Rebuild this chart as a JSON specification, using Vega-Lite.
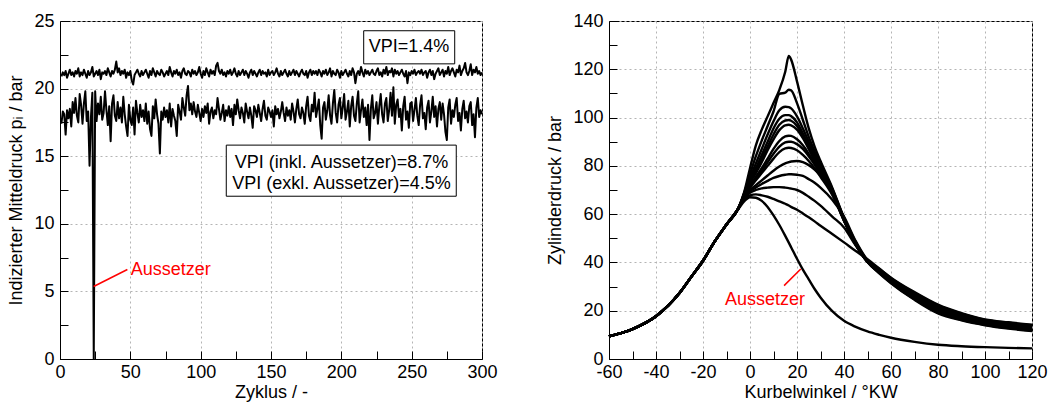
{
"$schema": "https://vega.github.io/schema/vega-lite/v6.json",
"background": "white",
"padding": {"left": 7, "top": 11, "right": 0, "bottom": 0},
"spacing": 48,
"datasets": {
"cyc": [
{"x":1,"a":20.9,"b":17.4},{"x":2,"a":21.2,"b":18.3},{"x":3,"a":21.0,"b":18.1},{"x":4,"a":21.3,"b":16.6},{"x":5,"a":20.8,"b":18.4},{"x":6,"a":21.1,"b":17.8},{"x":7,"a":21.4,"b":18.5},{"x":8,"a":21.0,"b":17.2},{"x":9,"a":21.2,"b":19.0},{"x":10,"a":20.9,"b":18.2},
{"x":11,"a":21.3,"b":19.3},{"x":12,"a":21.1,"b":18.0},{"x":13,"a":21.5,"b":17.5},{"x":14,"a":20.9,"b":19.6},{"x":15,"a":21.2,"b":18.8},{"x":16,"a":21.0,"b":17.4},{"x":17,"a":21.4,"b":18.9},{"x":18,"a":21.1,"b":19.8},{"x":19,"a":20.8,"b":17.6},{"x":20,"a":21.3,"b":18.3},
{"x":21,"a":21.0,"b":14.3},{"x":22,"a":21.2,"b":17.9},{"x":23,"a":21.6,"b":19.7},{"x":24,"a":20.9,"b":0},{"x":25,"a":21.1,"b":19.8},{"x":26,"a":21.3,"b":17.6},{"x":27,"a":21.0,"b":18.9},{"x":28,"a":21.4,"b":18.1},{"x":29,"a":20.7,"b":19.4},{"x":30,"a":21.2,"b":17.7},
{"x":31,"a":21.1,"b":18.2},{"x":32,"a":21.3,"b":19.8},{"x":33,"a":21.0,"b":18.4},{"x":34,"a":21.5,"b":17.3},{"x":35,"a":21.2,"b":18.7},{"x":36,"a":20.9,"b":16.1},{"x":37,"a":21.3,"b":18.9},{"x":38,"a":21.1,"b":19.5},{"x":39,"a":21.4,"b":18.0},{"x":40,"a":22.0,"b":17.6},
{"x":41,"a":21.2,"b":19.0},{"x":42,"a":21.5,"b":17.8},{"x":43,"a":21.0,"b":18.6},{"x":44,"a":21.3,"b":17.5},{"x":45,"a":21.1,"b":19.4},{"x":46,"a":21.4,"b":18.1},{"x":47,"a":20.8,"b":17.2},{"x":48,"a":21.2,"b":16.5},{"x":49,"a":21.0,"b":18.8},{"x":50,"a":21.3,"b":17.7},
{"x":51,"a":20.6,"b":17.3},{"x":52,"a":20.3,"b":18.6},{"x":53,"a":21.0,"b":16.6},{"x":54,"a":21.2,"b":19.1},{"x":55,"a":21.4,"b":18.2},{"x":56,"a":21.1,"b":17.5},{"x":57,"a":20.9,"b":18.8},{"x":58,"a":21.3,"b":17.9},{"x":59,"a":21.0,"b":18.4},{"x":60,"a":21.2,"b":17.6},
{"x":61,"a":21.4,"b":18.9},{"x":62,"a":21.1,"b":17.4},{"x":63,"a":20.8,"b":18.3},{"x":64,"a":21.3,"b":17.0},{"x":65,"a":21.0,"b":16.5},{"x":66,"a":21.5,"b":18.7},{"x":67,"a":21.2,"b":17.8},{"x":68,"a":20.9,"b":19.2},{"x":69,"a":21.3,"b":18.1},{"x":70,"a":21.1,"b":17.4},
{"x":71,"a":21.0,"b":15.2},{"x":72,"a":21.4,"b":18.3},{"x":73,"a":21.2,"b":17.7},{"x":74,"a":20.9,"b":18.6},{"x":75,"a":21.1,"b":17.9},{"x":76,"a":21.3,"b":18.4},{"x":77,"a":21.0,"b":17.5},{"x":78,"a":21.6,"b":18.9},{"x":79,"a":21.2,"b":17.2},{"x":80,"a":20.9,"b":18.5},
{"x":81,"a":21.3,"b":18.0},{"x":82,"a":21.1,"b":17.6},{"x":83,"a":21.4,"b":16.5},{"x":84,"a":21.0,"b":18.8},{"x":85,"a":21.2,"b":18.3},{"x":86,"a":20.8,"b":17.7},{"x":87,"a":21.3,"b":19.3},{"x":88,"a":21.5,"b":18.6},{"x":89,"a":21.1,"b":18.0},{"x":90,"a":21.0,"b":19.5},
{"x":91,"a":21.3,"b":20.2},{"x":92,"a":21.2,"b":18.4},{"x":93,"a":20.9,"b":18.9},{"x":94,"a":21.4,"b":18.1},{"x":95,"a":21.1,"b":19.0},{"x":96,"a":21.3,"b":18.3},{"x":97,"a":21.0,"b":17.9},{"x":98,"a":21.2,"b":18.8},{"x":99,"a":21.6,"b":18.2},{"x":100,"a":21.1,"b":17.6},
{"x":101,"a":20.8,"b":18.5},{"x":102,"a":21.3,"b":17.9},{"x":103,"a":21.0,"b":18.7},{"x":104,"a":21.5,"b":18.2},{"x":105,"a":21.2,"b":18.9},{"x":106,"a":20.9,"b":17.4},{"x":107,"a":21.4,"b":18.3},{"x":108,"a":21.1,"b":18.6},{"x":109,"a":21.3,"b":17.8},{"x":110,"a":21.0,"b":18.4},
{"x":111,"a":21.7,"b":18.1},{"x":112,"a":21.9,"b":19.3},{"x":113,"a":21.3,"b":18.5},{"x":114,"a":21.1,"b":17.7},{"x":115,"a":21.4,"b":18.2},{"x":116,"a":21.0,"b":18.8},{"x":117,"a":21.2,"b":17.6},{"x":118,"a":20.9,"b":18.4},{"x":119,"a":21.3,"b":18.0},{"x":120,"a":21.1,"b":18.7},
{"x":121,"a":21.4,"b":17.9},{"x":122,"a":21.0,"b":18.5},{"x":123,"a":21.2,"b":17.3},{"x":124,"a":21.5,"b":18.8},{"x":125,"a":21.1,"b":18.1},{"x":126,"a":20.9,"b":19.2},{"x":127,"a":21.3,"b":18.4},{"x":128,"a":21.0,"b":17.8},{"x":129,"a":21.2,"b":18.6},{"x":130,"a":21.4,"b":18.2},
{"x":131,"a":21.0,"b":17.5},{"x":132,"a":21.3,"b":18.9},{"x":133,"a":21.1,"b":18.3},{"x":134,"a":20.8,"b":17.8},{"x":135,"a":21.2,"b":18.6},{"x":136,"a":21.4,"b":18.0},{"x":137,"a":21.0,"b":17.1},{"x":138,"a":21.3,"b":18.7},{"x":139,"a":21.1,"b":18.4},{"x":140,"a":20.9,"b":17.9},
{"x":141,"a":21.2,"b":18.8},{"x":142,"a":21.4,"b":18.2},{"x":143,"a":21.0,"b":17.6},{"x":144,"a":21.3,"b":18.5},{"x":145,"a":21.1,"b":19.1},{"x":146,"a":21.2,"b":18.0},{"x":147,"a":20.9,"b":17.7},{"x":148,"a":21.4,"b":18.6},{"x":149,"a":21.0,"b":18.3},{"x":150,"a":21.2,"b":17.9},
{"x":151,"a":21.3,"b":18.4},{"x":152,"a":21.0,"b":17.2},{"x":153,"a":21.2,"b":18.7},{"x":154,"a":21.5,"b":18.1},{"x":155,"a":21.1,"b":18.5},{"x":156,"a":20.9,"b":17.8},{"x":157,"a":21.3,"b":18.3},{"x":158,"a":21.0,"b":19.0},{"x":159,"a":21.2,"b":18.2},{"x":160,"a":21.4,"b":17.6},
{"x":161,"a":21.1,"b":18.6},{"x":162,"a":20.9,"b":18.0},{"x":163,"a":21.3,"b":18.4},{"x":164,"a":21.0,"b":17.7},{"x":165,"a":21.2,"b":18.9},{"x":166,"a":21.4,"b":18.3},{"x":167,"a":21.0,"b":17.5},{"x":168,"a":21.3,"b":18.5},{"x":169,"a":21.1,"b":19.2},{"x":170,"a":20.9,"b":18.1},
{"x":171,"a":21.2,"b":17.8},{"x":172,"a":21.4,"b":18.6},{"x":173,"a":21.1,"b":18.2},{"x":174,"a":21.0,"b":17.4},{"x":175,"a":21.3,"b":18.7},{"x":176,"a":20.8,"b":19.4},{"x":177,"a":21.2,"b":18.0},{"x":178,"a":21.4,"b":17.6},{"x":179,"a":21.0,"b":18.8},{"x":180,"a":21.3,"b":18.3},
{"x":181,"a":21.1,"b":19.7},{"x":182,"a":21.3,"b":17.9},{"x":183,"a":21.0,"b":18.5},{"x":184,"a":21.4,"b":19.2},{"x":185,"a":21.2,"b":17.3},{"x":186,"a":20.9,"b":16.3},{"x":187,"a":21.3,"b":18.6},{"x":188,"a":21.1,"b":19.0},{"x":189,"a":21.4,"b":17.7},{"x":190,"a":21.0,"b":18.4},
{"x":191,"a":21.2,"b":19.5},{"x":192,"a":21.5,"b":18.0},{"x":193,"a":20.9,"b":17.4},{"x":194,"a":21.3,"b":18.9},{"x":195,"a":21.1,"b":19.9},{"x":196,"a":21.0,"b":18.2},{"x":197,"a":21.4,"b":17.5},{"x":198,"a":21.2,"b":18.8},{"x":199,"a":20.8,"b":19.3},{"x":200,"a":21.3,"b":17.8},
{"x":201,"a":21.0,"b":18.6},{"x":202,"a":21.2,"b":19.6},{"x":203,"a":21.4,"b":17.7},{"x":204,"a":21.1,"b":18.3},{"x":205,"a":20.9,"b":19.1},{"x":206,"a":21.3,"b":17.2},{"x":207,"a":21.0,"b":18.7},{"x":208,"a":21.5,"b":19.4},{"x":209,"a":21.2,"b":18.0},{"x":210,"a":20.4,"b":17.6},
{"x":211,"a":21.1,"b":18.9},{"x":212,"a":21.3,"b":19.8},{"x":213,"a":21.0,"b":17.5},{"x":214,"a":21.6,"b":18.4},{"x":215,"a":21.2,"b":19.2},{"x":216,"a":20.9,"b":17.9},{"x":217,"a":21.4,"b":18.6},{"x":218,"a":21.1,"b":17.3},{"x":219,"a":21.3,"b":18.8},{"x":220,"a":21.0,"b":16.2},
{"x":221,"a":21.2,"b":18.5},{"x":222,"a":21.4,"b":19.5},{"x":223,"a":21.1,"b":17.8},{"x":224,"a":21.0,"b":18.2},{"x":225,"a":21.3,"b":19.0},{"x":226,"a":21.5,"b":17.4},{"x":227,"a":21.0,"b":18.7},{"x":228,"a":21.2,"b":19.6},{"x":229,"a":20.9,"b":18.1},{"x":230,"a":21.4,"b":17.5},
{"x":231,"a":21.1,"b":18.9},{"x":232,"a":21.6,"b":19.3},{"x":233,"a":21.0,"b":17.6},{"x":234,"a":21.3,"b":18.4},{"x":235,"a":21.2,"b":19.7},{"x":236,"a":21.5,"b":18.0},{"x":237,"a":20.9,"b":20.1},{"x":238,"a":21.4,"b":17.4},{"x":239,"a":21.1,"b":18.8},{"x":240,"a":21.3,"b":19.2},
{"x":241,"a":21.0,"b":17.9},{"x":242,"a":21.2,"b":18.5},{"x":243,"a":21.4,"b":16.9},{"x":244,"a":21.1,"b":18.7},{"x":245,"a":20.9,"b":19.4},{"x":246,"a":21.3,"b":17.7},{"x":247,"a":20.4,"b":18.3},{"x":248,"a":21.2,"b":17.1},{"x":249,"a":21.0,"b":18.9},{"x":250,"a":21.3,"b":19.0},
{"x":251,"a":21.1,"b":17.6},{"x":252,"a":21.4,"b":18.4},{"x":253,"a":21.0,"b":19.3},{"x":254,"a":21.2,"b":18.0},{"x":255,"a":21.3,"b":17.3},{"x":256,"a":21.1,"b":18.8},{"x":257,"a":21.4,"b":19.5},{"x":258,"a":21.0,"b":17.8},{"x":259,"a":21.2,"b":18.2},{"x":260,"a":21.3,"b":17.0},
{"x":261,"a":20.8,"b":18.6},{"x":262,"a":21.2,"b":19.1},{"x":263,"a":21.4,"b":17.5},{"x":264,"a":21.0,"b":18.3},{"x":265,"a":21.3,"b":19.4},{"x":266,"a":20.7,"b":17.9},{"x":267,"a":21.1,"b":18.7},{"x":268,"a":21.3,"b":17.2},{"x":269,"a":21.5,"b":18.5},{"x":270,"a":21.0,"b":19.0},
{"x":271,"a":21.2,"b":17.7},{"x":272,"a":21.4,"b":18.9},{"x":273,"a":20.9,"b":18.1},{"x":274,"a":21.3,"b":16.8},{"x":275,"a":21.1,"b":16.2},{"x":276,"a":21.6,"b":18.6},{"x":277,"a":21.0,"b":19.2},{"x":278,"a":21.3,"b":17.4},{"x":279,"a":21.5,"b":18.4},{"x":280,"a":21.2,"b":17.9},
{"x":281,"a":20.9,"b":18.8},{"x":282,"a":21.4,"b":19.3},{"x":283,"a":21.2,"b":17.6},{"x":284,"a":21.7,"b":18.2},{"x":285,"a":21.0,"b":16.9},{"x":286,"a":21.3,"b":18.5},{"x":287,"a":21.5,"b":19.1},{"x":288,"a":21.9,"b":17.8},{"x":289,"a":21.2,"b":18.3},{"x":290,"a":21.0,"b":17.5},
{"x":291,"a":21.3,"b":18.7},{"x":292,"a":21.8,"b":19.0},{"x":293,"a":21.0,"b":17.3},{"x":294,"a":21.4,"b":18.1},{"x":295,"a":21.2,"b":16.4},{"x":296,"a":21.6,"b":18.6},{"x":297,"a":21.1,"b":19.3},{"x":298,"a":21.3,"b":17.9},{"x":299,"a":21.0,"b":18.4},{"x":300,"a":21.2,"b":18.1}
],
"boxL": [
{"x":215.9,"x2":280.6,"y":21.83,"y2":24.28},
{"x":118.2,"x2":281.7,"y":12.04,"y2":15.82}
],
"textL": [
{"x":248.1,"y":23.07,"t":"VPI=1.4%"},
{"x":200.1,"y":14.47,"t":"VPI (inkl. Aussetzer)=8.7%"},
{"x":200.1,"y":12.98,"t":"VPI (exkl. Aussetzer)=4.5%"}
],
"ruleL": [{"x":23.9,"y":5.36,"x2":47.9,"y2":6.62}],
"redL": [{"x":50.3,"y":6.55,"t":"Aussetzer"}],
"press": [
{"x":-60,"A":9.4,"B":9.4,"C":9.4,"D":9.4,"E":9.4,"F":9.4,"G":9.4,"H":9.4,"I":9.4,"J":9.4,"K":9.4,"L":9.4,"M":9.4,"N":9.4},
{"x":-50,"A":12.4,"B":12.4,"C":12.4,"D":12.4,"E":12.4,"F":12.4,"G":12.4,"H":12.4,"I":12.4,"J":12.4,"K":12.4,"L":12.4,"M":12.4,"N":12.4},
{"x":-40,"A":17.7,"B":17.7,"C":17.7,"D":17.7,"E":17.7,"F":17.7,"G":17.7,"H":17.7,"I":17.7,"J":17.7,"K":17.7,"L":17.7,"M":17.7,"N":17.7},
{"x":-30,"A":27.3,"B":27.3,"C":27.3,"D":27.3,"E":27.3,"F":27.3,"G":27.3,"H":27.3,"I":27.3,"J":27.3,"K":27.3,"L":27.3,"M":27.3,"N":27.3},
{"x":-25,"A":34,"B":34,"C":34,"D":34,"E":34,"F":34,"G":34,"H":34,"I":34,"J":34,"K":34,"L":34,"M":34,"N":34},
{"x":-20,"A":40.7,"B":40.7,"C":40.7,"D":40.7,"E":40.7,"F":40.7,"G":40.7,"H":40.7,"I":40.7,"J":40.7,"K":40.7,"L":40.7,"M":40.7,"N":40.7},
{"x":-15,"A":48.7,"B":48.7,"C":48.7,"D":48.7,"E":48.7,"F":48.7,"G":48.7,"H":48.7,"I":48.7,"J":48.7,"K":48.7,"L":48.7,"M":48.7,"N":48.7},
{"x":-10,"A":55.7,"B":55.7,"C":55.7,"D":55.7,"E":55.7,"F":55.7,"G":55.7,"H":55.7,"I":55.7,"J":55.7,"K":55.7,"L":55.7,"M":55.7,"N":55.7},
{"x":-5,"A":62.3,"B":62.3,"C":62.3,"D":62.3,"E":62.3,"F":62.3,"G":62.3,"H":62.3,"I":62.3,"J":62.3,"K":62.3,"L":62.3,"M":62.3,"N":62},
{"x":-2.5,"A":69,"B":68.7,"C":68.4,"D":68.2,"E":68,"F":67.8,"G":67.6,"H":67.4,"I":67.2,"J":67,"K":66.8,"L":66.5,"M":66,"N":65.3},
{"x":0,"A":79,"B":76.5,"C":75,"D":74,"E":73.5,"F":73,"G":72,"H":71.5,"I":71,"J":70,"K":69.5,"L":68.8,"M":67.8,"N":67},
{"x":2.5,"A":88.5,"B":84,"C":81,"D":79,"E":78,"F":77,"G":75.5,"H":74.5,"I":74,"J":72,"K":71,"L":70,"M":68.2,"N":66.8},
{"x":5,"A":95,"B":90.5,"C":87,"D":84.5,"E":83,"F":81.5,"G":79,"H":78,"I":77,"J":74,"K":72.5,"L":70.7,"M":67.8,"N":65.5},
{"x":7.5,"A":100.5,"B":96.5,"C":93,"D":90,"E":88,"F":86.5,"G":83,"H":81.5,"I":80,"J":76,"K":73.8,"L":71,"M":67.2,"N":63},
{"x":10,"A":106,"B":102.5,"C":98.5,"D":95.5,"E":93,"F":91,"G":87,"H":85,"I":83,"J":78,"K":75,"L":71.2,"M":66.3,"N":59.5},
{"x":12.5,"A":111.5,"B":109.8,"C":103,"D":99.5,"E":97,"F":94.8,"G":90.3,"H":88,"I":85.7,"J":79.7,"K":75.8,"L":71.2,"M":65.3,"N":55.5},
{"x":15,"A":119,"B":110.3,"C":104.5,"D":101,"E":98.8,"F":96.8,"G":92.2,"H":89.7,"I":87.2,"J":81,"K":76.3,"L":71,"M":64.3,"N":51},
{"x":16.5,"A":125.5,"B":111.5,"C":104.3,"D":101,"E":99,"F":97,"G":92.5,"H":90,"I":87.5,"J":81.5,"K":76.5,"L":70.8,"M":63.6,"N":48.2},
{"x":17.5,"A":124,"B":111.3,"C":103.8,"D":100.6,"E":98.7,"F":96.8,"G":92.4,"H":90,"I":87.4,"J":81.8,"K":76.5,"L":70.6,"M":63,"N":46.3},
{"x":20,"A":115,"B":106,"C":100.5,"D":98,"E":96.5,"F":95,"G":91,"H":89,"I":86.5,"J":82,"K":76.3,"L":70,"M":61.8,"N":41.5},
{"x":22.5,"A":105,"B":99,"C":95.5,"D":93.5,"E":92.5,"F":91.5,"G":88.5,"H":87,"I":84.5,"J":81.5,"K":75.8,"L":68.8,"M":60.3,"N":37},
{"x":25,"A":95.5,"B":92,"C":90,"D":88.5,"E":87.5,"F":87,"G":85,"H":84,"I":82,"J":80.3,"K":74.5,"L":67.2,"M":58.7,"N":33},
{"x":27.5,"A":88,"B":86,"C":84.5,"D":83.5,"E":82.5,"F":82,"G":81,"H":80.5,"I":79,"J":78.5,"K":73,"L":65.5,"M":57,"N":29},
{"x":30,"A":82,"B":80.5,"C":79.5,"D":78.5,"E":78,"F":77.5,"G":77,"H":76.5,"I":75.5,"J":76,"K":71,"L":63.5,"M":55.2,"N":25.5},
{"x":35,"A":71,"B":70.5,"C":70,"D":69.5,"E":69.3,"F":69,"G":68.8,"H":68.5,"I":68,"J":69,"K":66,"L":59,"M":51.8,"N":19.8},
{"x":40,"A":58.5,"B":58.3,"C":58,"D":57.8,"E":57.6,"F":57.3,"G":57.3,"H":57.5,"I":57.5,"J":58.5,"K":59,"L":54.5,"M":48.3,"N":15.8},
{"x":45,"A":48.3,"B":48.1,"C":47.9,"D":47.7,"E":47.5,"F":47.3,"G":47.3,"H":47.5,"I":47.7,"J":48.3,"K":48.8,"L":47,"M":44.7,"N":13.3},
{"x":50,"A":40.3,"B":40.3,"C":40.2,"D":40.2,"E":40.2,"F":40.2,"G":40.3,"H":40.4,"I":40.5,"J":40.8,"K":41,"L":41,"M":41.3,"N":11.4},
{"x":55,"A":35.5,"B":35.7,"C":35.8,"D":36.0,"E":36.2,"F":36.3,"G":36.5,"H":36.7,"I":36.8,"J":37.0,"K":37.2,"L":37.3,"M":37.5,"N":10},
{"x":60,"A":31.4,"B":31.6,"C":31.8,"D":32.0,"E":32.2,"F":32.4,"G":32.55,"H":32.7,"I":32.9,"J":33.1,"K":33.3,"L":33.5,"M":33.7,"N":8.8},
{"x":70,"A":24.5,"B":24.8,"C":25.0,"D":25.3,"E":25.6,"F":25.8,"G":26.1,"H":26.4,"I":26.6,"J":26.9,"K":27.2,"L":27.4,"M":27.7,"N":7.1},
{"x":80,"A":18.9,"B":19.2,"C":19.5,"D":19.8,"E":20.1,"F":20.4,"G":20.7,"H":21.0,"I":21.3,"J":21.6,"K":21.9,"L":22.2,"M":22.5,"N":5.9},
{"x":90,"A":16.0,"B":16.25,"C":16.5,"D":16.75,"E":17.0,"F":17.25,"G":17.5,"H":17.75,"I":18.0,"J":18.25,"K":18.5,"L":18.75,"M":19.0,"N":5.3},
{"x":100,"A":14.0,"B":14.2,"C":14.4,"D":14.6,"E":14.8,"F":15.0,"G":15.2,"H":15.4,"I":15.6,"J":15.8,"K":16.0,"L":16.2,"M":16.4,"N":4.9},
{"x":110,"A":12.6,"B":12.8,"C":13.0,"D":13.25,"E":13.5,"F":13.7,"G":13.9,"H":14.1,"I":14.3,"J":14.55,"K":14.8,"L":15.0,"M":15.2,"N":4.6},
{"x":120,"A":11.6,"B":11.8,"C":12.0,"D":12.25,"E":12.5,"F":12.7,"G":12.9,"H":13.1,"I":13.3,"J":13.55,"K":13.8,"L":14.0,"M":14.2,"N":4.4}
],
"ruleR": [{"x":14.5,"y":30.4,"x2":21.6,"y2":37.3}],
"redR": [{"x":6.4,"y":24.56,"t":"Aussetzer"}]
},
"hconcat": [
{
"width": 422, "height": 338,
"encoding": {
"x": {"field": "x", "type": "quantitative", "scale": {"domain": [0, 300], "nice": false, "zero": false},
 "axis": {"title": "Zyklus / -", "values": [0,25,50,75,100,125,150,175,200,225,250,275,300],
 "labelExpr": "datum.value % 50 === 0 ? '' + datum.value : ''",
 "tickSize": -8,
 "gridOpacity": {"condition": {"test": "datum.value % 50 === 0", "value": 1}, "value": 0},
 "labelPadding": 12, "labelOverlap": false, "labelFlush": false, "titlePadding": 2}},
"y": {"field": "y", "type": "quantitative", "scale": {"domain": [0, 25], "nice": false, "zero": false},
 "axis": {"title": "Indizierter Mitteldruck pᵢ / bar", "values": [0,2.5,5,7.5,10,12.5,15,17.5,20,22.5,25],
 "labelExpr": "datum.value % 5 === 0 ? '' + datum.value : ''",
 "tickSize": -8,
 "gridOpacity": {"condition": {"test": "datum.value % 5 === 0", "value": 1}, "value": 0},
 "labelPadding": 14, "labelOverlap": false, "labelFlush": false, "titlePadding": 8}}
},
"layer": [
{"data": {"name": "cyc"}, "transform": [{"fold": ["a", "b"], "as": ["k", "y"]}],
 "mark": {"type": "line", "color": "black", "strokeWidth": 2, "strokeJoin": "round"},
 "encoding": {"detail": {"field": "k"}}},
{"data": {"name": "boxL"}, "mark": {"type": "rect", "fill": "white", "stroke": "black", "strokeWidth": 1},
 "encoding": {"x2": {"field": "x2"}, "y2": {"field": "y2"}}},
{"data": {"name": "textL"}, "mark": {"type": "text", "fontSize": 18, "color": "black", "align": "center", "baseline": "middle"},
 "encoding": {"text": {"field": "t"}}},
{"data": {"name": "ruleL"}, "mark": {"type": "rule", "color": "#ff0000", "strokeWidth": 1.5},
 "encoding": {"x2": {"field": "x2"}, "y2": {"field": "y2"}}},
{"data": {"name": "redL"}, "mark": {"type": "text", "fontSize": 18, "color": "#ff0000", "align": "left", "baseline": "middle"},
 "encoding": {"text": {"field": "t"}}}
]
},
{
"width": 423, "height": 338,
"encoding": {
"x": {"field": "x", "type": "quantitative", "scale": {"domain": [-60, 120], "nice": false, "zero": false},
 "axis": {"title": "Kurbelwinkel / °KW", "values": [-60,-50,-40,-30,-20,-10,0,10,20,30,40,50,60,70,80,90,100,110,120],
 "labelExpr": "datum.value % 20 === 0 ? '' + datum.value : ''",
 "tickSize": -8,
 "gridOpacity": {"condition": {"test": "datum.value % 20 === 0", "value": 1}, "value": 0},
 "labelPadding": 12, "labelOverlap": false, "labelFlush": false, "titlePadding": 2}},
"y": {"field": "y", "type": "quantitative", "scale": {"domain": [0, 140], "nice": false, "zero": false},
 "axis": {"title": "Zylinderdruck / bar", "values": [0,10,20,30,40,50,60,70,80,90,100,110,120,130,140],
 "labelExpr": "datum.value % 20 === 0 ? '' + datum.value : ''",
 "tickSize": -8,
 "gridOpacity": {"condition": {"test": "datum.value % 20 === 0", "value": 1}, "value": 0},
 "labelPadding": 14, "labelOverlap": false, "labelFlush": false, "titlePadding": 8}}
},
"layer": [
{"data": {"name": "press"},
 "transform": [{"fold": ["A","B","C","D","E","F","G","H","I","J","K","L","M","N"], "as": ["k", "y"]}, {"filter": "isValid(datum.y)"}],
 "mark": {"type": "line", "color": "black", "strokeWidth": 2.4, "interpolate": "monotone", "strokeJoin": "round"},
 "encoding": {"detail": {"field": "k"}}},
{"data": {"name": "ruleR"}, "mark": {"type": "rule", "color": "#ff0000", "strokeWidth": 1.5},
 "encoding": {"x2": {"field": "x2"}, "y2": {"field": "y2"}}},
{"data": {"name": "redR"}, "mark": {"type": "text", "fontSize": 18, "color": "#ff0000", "align": "center", "baseline": "middle"},
 "encoding": {"text": {"field": "t"}}}
]
}
],
"config": {
"font": "Liberation Sans",
"view": {"stroke": "black", "strokeWidth": 1},
"axis": {"domainColor": "black", "domainWidth": 1, "tickColor": "black", "tickWidth": 1,
 "labelFont": "Liberation Sans", "labelFontSize": 18, "labelColor": "black",
 "titleFont": "Liberation Sans", "titleFontSize": 18, "titleFontWeight": "normal", "titleColor": "black",
 "gridColor": "#b4b4b4", "gridDash": [2, 3], "gridWidth": 1}
}
}
